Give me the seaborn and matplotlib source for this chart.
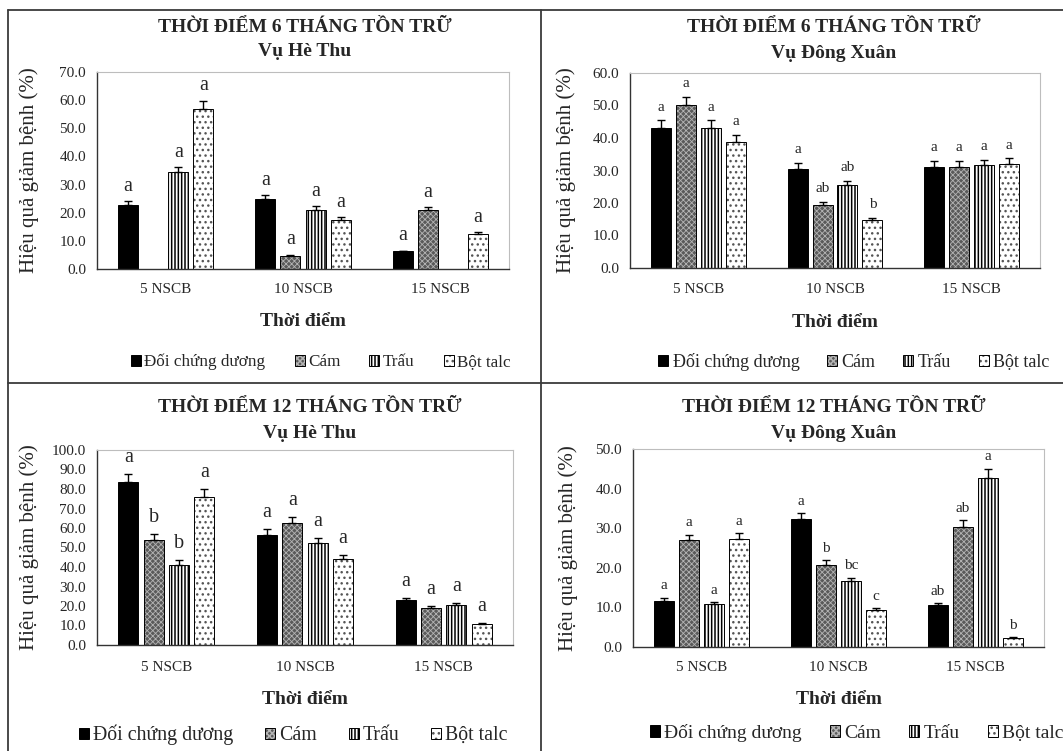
import numpy as np
import pandas as pd
import seaborn as sns
import matplotlib
matplotlib.use("Agg")
import matplotlib.pyplot as plt
from matplotlib.lines import Line2D

# ---------------- data ----------------
times = ["5 NSCB", "10 NSCB", "15 NSCB"]
treatments = ["Đối chứng dương", "Cám", "Trấu", "Bột talc"]

titles = ["THỜI ĐIỂM 6 THÁNG TỒN TRỮ", "THỜI ĐIỂM 6 THÁNG TỒN TRỮ",
          "THỜI ĐIỂM 12 THÁNG TỒN TRỮ", "THỜI ĐIỂM 12 THÁNG TỒN TRỮ"]
seasons = ["Vụ Hè Thu", "Vụ Đông Xuân", "Vụ Hè Thu", "Vụ Đông Xuân"]
ymaxes = [70, 60, 100, 50]
ysteps = [10, 10, 10, 10]

# values[treatment][time]
p1_values = {"Đối chứng dương": [22.6, 24.8, 6.3],
             "Cám": [np.nan, 4.6, 20.8],
             "Trấu": [34.4, 21.0, np.nan],
             "Bột talc": [56.8, 17.4, 12.4]}
p1_err = {"Đối chứng dương": [1.4, 1.4, 0.2],
          "Cám": [np.nan, 0.4, 1.2],
          "Trấu": [1.7, 1.3, np.nan],
          "Bột talc": [2.9, 1.0, 0.7]}
p1_letters = {"Đối chứng dương": ["a", "a", "a"],
              "Cám": ["", "a", "a"],
              "Trấu": ["a", "a", ""],
              "Bột talc": ["a", "a", "a"]}

p2_values = {"Đối chứng dương": [43.2, 30.6, 31.2],
             "Cám": [50.2, 19.3, 31.2],
             "Trấu": [43.2, 25.5, 31.7],
             "Bột talc": [38.9, 14.7, 32.0]}
p2_err = {"Đối chứng dương": [2.2, 1.7, 1.6],
          "Cám": [2.4, 1.0, 1.6],
          "Trấu": [2.2, 1.4, 1.6],
          "Bột talc": [2.0, 0.8, 1.7]}
p2_letters = {"Đối chứng dương": ["a", "a", "a"],
              "Cám": ["a", "ab", "a"],
              "Trấu": ["a", "ab", "a"],
              "Bột talc": ["a", "b", "a"]}

p3_values = {"Đối chứng dương": [83.6, 56.2, 22.9],
             "Cám": [54.0, 62.6, 18.8],
             "Trấu": [40.9, 52.1, 20.7],
             "Bột talc": [75.9, 43.9, 10.9]}
p3_err = {"Đối chứng dương": [4.1, 3.1, 1.2],
          "Cám": [2.7, 3.1, 1.0],
          "Trấu": [2.6, 2.7, 0.9],
          "Bột talc": [4.1, 2.1, 0.5]}
p3_letters = {"Đối chứng dương": ["a", "a", "a"],
              "Cám": ["b", "a", "a"],
              "Trấu": ["b", "a", "a"],
              "Bột talc": ["a", "a", "a"]}

p4_values = {"Đối chứng dương": [11.7, 32.2, 10.6],
             "Cám": [26.9, 20.8, 30.4],
             "Trấu": [10.9, 16.6, 42.8],
             "Bột talc": [27.3, 9.3, 2.2]}
p4_err = {"Đối chứng dương": [0.8, 1.6, 0.4],
          "Cám": [1.4, 1.1, 1.6],
          "Trấu": [0.4, 0.9, 2.2],
          "Bột talc": [1.4, 0.5, 0.2]}
p4_letters = {"Đối chứng dương": ["a", "a", "ab"],
              "Cám": ["a", "b", "ab"],
              "Trấu": ["a", "bc", "a"],
              "Bột talc": ["a", "c", "b"]}

panels_values = [p1_values, p2_values, p3_values, p4_values]
panels_err = [p1_err, p2_err, p3_err, p4_err]
panels_letters = [p1_letters, p2_letters, p3_letters, p4_letters]

# ---------------- style ----------------
sns.set_style("white")
plt.rcParams["font.family"] = ["Liberation Serif", "DejaVu Serif"]
plt.rcParams["hatch.linewidth"] = 1.1

W, H = 1063, 751
fig = plt.figure(figsize=(W / 100, H / 100), dpi=100)

# axes boxes in pixels: left, top, right, bottom
boxes = [(97, 72, 509, 269), (630, 73, 1040, 268),
         (97, 450, 513, 645), (633, 449, 1044, 647)]
title_pos = [(305, 27, 52), (834, 28, 53), (310, 408, 434), (834, 408, 433)]
ylabel_x = [29, 566, 29, 568]
xlabel_y = [322, 322, 700, 700]
ticklab_y = [290, 290, 668, 668]
legend_left = [(131, 362), (658, 362), (79, 735), (650, 733)]
legend_fs = [12.3, 13.0, 14.3, 14.0]
legend_cs = [1.7, 1.53, 1.6, 1.45]
legend_tp = [0.2, 0.25, 0.2, 0.22]
letter_fs = [14.5, 11, 14.5, 11]
letter_off = [4, 5, 5, 4]

face = {"Đối chứng dương": "black", "Cám": "#5a5a5a", "Trấu": "white", "Bột talc": "white"}
hatch = {"Đối chứng dương": None, "Cám": "xxxxxx", "Trấu": "|||||", "Bột talc": "..."}
hcolor = {"Đối chứng dương": "black", "Cám": "#b4b4b4", "Trấu": "black", "Bột talc": "#555555"}
hlw = {"Đối chứng dương": 1.0, "Cám": 0.6, "Trấu": 1.1, "Bột talc": 1.0}


def style_patch(p, t):
    p.set_facecolor(face[t])
    p.set_edgecolor("black")
    p.set_linewidth(0.7)
    if hatch[t]:
        p.set_hatch(hatch[t])
        p._hatch_color = matplotlib.colors.to_rgba(hcolor[t])
        p._hatch_linewidth = hlw[t]


for k in range(4):
    l, t, r, b = boxes[k]
    ax = fig.add_axes([l / W, 1 - b / H, (r - l) / W, (b - t) / H])
    vals, errs, lets = panels_values[k], panels_err[k], panels_letters[k]
    rows = []
    for tr in treatments:
        for i, tm in enumerate(times):
            rows.append({"time": tm, "treatment": tr, "value": vals[tr][i],
                         "err": errs[tr][i], "letter": lets[tr][i]})
    df = pd.DataFrame(rows)
    sns.barplot(data=df, x="time", y="value", hue="treatment", order=times,
                hue_order=treatments, width=0.73, gap=0.2, errorbar=None,
                palette=face, legend=False, ax=ax)

    for ci, tr in enumerate(treatments):
        cont = ax.containers[ci]
        sub = df[(df.treatment == tr)].dropna(subset=["value"])
        sub = sub.set_index("time").loc[[tm for tm in times if tm in set(sub.time)]]
        xs, ys, es = [], [], []
        for p, (tm, row) in zip(cont.patches, sub.iterrows()):
            style_patch(p, tr)
            xc = p.get_x() + p.get_width() / 2
            xs.append(xc); ys.append(row.value); es.append(row.err)
            if row.letter:
                ax.annotate(row.letter, (xc, row.value + row.err), xytext=(0, letter_off[k]),
                            textcoords="offset points", ha="center", va="bottom",
                            fontsize=letter_fs[k])
        ax.errorbar(xs, ys, yerr=[np.zeros(len(es)), es], fmt="none", ecolor="black",
                    elinewidth=1.0, capsize=3.2, capthick=1.0, zorder=3)

    ax.set_ylim(0, ymaxes[k])
    ax.set_xlim(-0.5, 2.5)
    yt = np.arange(0, ymaxes[k] + 0.01, ysteps[k])
    ax.set_yticks(yt)
    ax.set_yticklabels([f"{v:.1f}" for v in yt])
    ax.set_xticks([0, 1, 2])
    ax.set_xticklabels(times)
    ax.set_xticks([-0.5, 0.5, 1.5, 2.5], minor=True)
    ax.tick_params(axis="x", which="major", length=0, labelsize=11,
                   pad=(ticklab_y[k] - b) * 0.72 - 5)
    ax.tick_params(axis="x", which="minor", length=4, width=0.8, color="#333333", direction="out")
    ax.tick_params(axis="y", which="major", length=4, width=0.8, color="#333333",
                   direction="out", labelsize=11, pad=4)
    for s in ["left", "bottom"]:
        ax.spines[s].set_color("#333333"); ax.spines[s].set_linewidth(1.0)
    for s in ["top", "right"]:
        ax.spines[s].set_color("#bdbdbd"); ax.spines[s].set_linewidth(0.8)

    ax.set_xlabel("Thời điểm", fontsize=14, fontweight="bold", va="center")
    ax.xaxis.set_label_coords(0.5, (b - xlabel_y[k]) / (b - t))
    ax.set_ylabel("Hiệu quả giảm bệnh (%)", fontsize=15, va="center")
    ax.yaxis.set_label_coords((ylabel_x[k] - l) / (r - l), 0.5)

    cx, y1, y2 = title_pos[k]
    fig.text(cx / W, 1 - y1 / H, titles[k], ha="center", va="center",
             fontsize=14, fontweight="bold")
    fig.text(cx / W, 1 - y2 / H, seasons[k], ha="center", va="center",
             fontsize=14, fontweight="bold")

    lx, ly = legend_left[k]
    hsz = 10 / (legend_fs[k] * 100 / 72)
    ax.legend(ax.containers, treatments, loc="center left", bbox_to_anchor=(lx / W, 1 - ly / H),
              bbox_transform=fig.transFigure, ncol=4, frameon=False,
              fontsize=legend_fs[k], handlelength=hsz, handleheight=hsz,
              handletextpad=legend_tp[k], columnspacing=legend_cs[k], borderpad=0,
              borderaxespad=0)

# panel frame lines
lc = "#3a3a3a"
fig.add_artist(Line2D([8 / W, 1], [1 - 10 / H, 1 - 10 / H], color=lc, lw=1.3))
fig.add_artist(Line2D([8 / W, 8 / W], [0, 1 - 10 / H], color=lc, lw=1.3))
fig.add_artist(Line2D([541 / W, 541 / W], [0, 1 - 10 / H], color=lc, lw=1.3))
fig.add_artist(Line2D([8 / W, 1], [1 - 383 / H, 1 - 383 / H], color=lc, lw=1.3))

fig.savefig("out.png", dpi=100, facecolor="white")
